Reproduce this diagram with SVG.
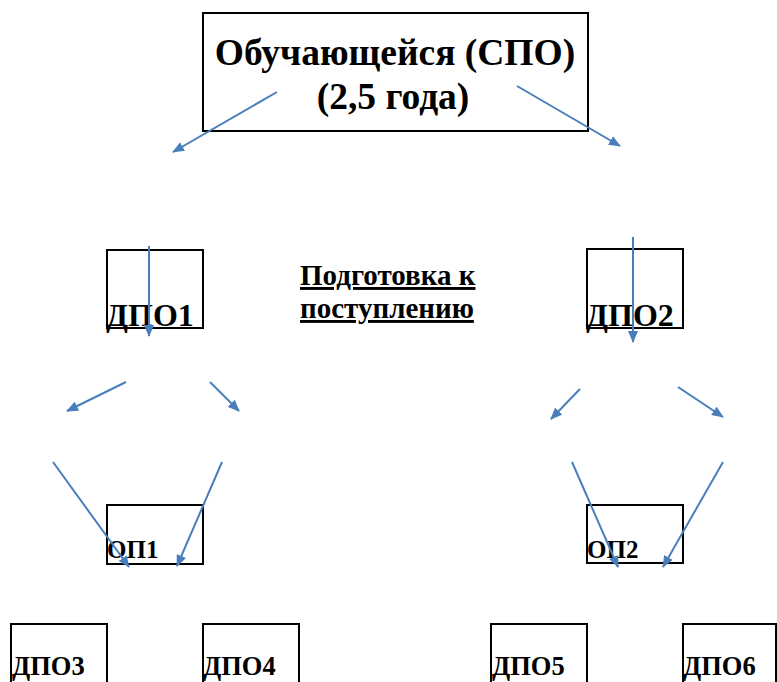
<svg xmlns="http://www.w3.org/2000/svg" width="777" height="682" viewBox="0 0 777 682">
<style>
.box{fill:none;stroke:#000;stroke-width:2}
.t{font-family:"Liberation Serif","Times New Roman",serif;font-weight:bold;fill:#000}
.big{font-size:37.5px}
.lbl{font-size:32px}
.sm{font-size:25px}
.bt{font-size:26.5px}
.mid{font-size:29px;text-decoration:underline}
.ar{stroke:#4A7EBB;stroke-width:2;fill:none;marker-end:url(#ah)}
</style>
<defs>
<marker id="ah" viewBox="0 0 12 10" refX="11" refY="5" markerWidth="6" markerHeight="5" orient="auto" markerUnits="strokeWidth">
<path d="M0,0 L12,5 L0,10 z" fill="#4A7EBB"/>
</marker>
</defs>
<rect width="777" height="682" fill="#fff"/>
<g id="top">
<rect class="box" x="203" y="13" width="385" height="118"/>
<text class="t big" x="395" y="65" text-anchor="middle">Обучающейся (СПО)</text>
<text class="t big" x="393" y="109" text-anchor="middle">(2,5 года)</text>
</g>
<g id="dpo1">
<rect class="box" x="107" y="250" width="96" height="78"/>
<text class="t lbl" x="106" y="326">ДПО1</text>
</g>
<g id="dpo2">
<rect class="box" x="587" y="249" width="96" height="79"/>
<text class="t lbl" x="586" y="326">ДПО2</text>
</g>
<g id="prep">
<text class="t mid" x="300" y="285">Подготовка к</text>
<text class="t mid" x="300" y="318">поступлению</text>
</g>
<g id="op1">
<rect class="box" x="107" y="505" width="96" height="59"/>
<text class="t sm" x="107" y="558">ОП1</text>
</g>
<g id="op2">
<rect class="box" x="587" y="505" width="96" height="58"/>
<text class="t sm" x="587" y="558">ОП2</text>
</g>
<g id="dpo3">
<rect class="box" x="11" y="624" width="96" height="70"/>
<text class="t bt" x="12" y="675">ДПО3</text>
</g>
<g id="dpo4">
<rect class="box" x="203" y="624" width="96" height="70"/>
<text class="t bt" x="203" y="675">ДПО4</text>
</g>
<g id="dpo5">
<rect class="box" x="491" y="624" width="96" height="70"/>
<text class="t bt" x="492" y="675">ДПО5</text>
</g>
<g id="dpo6">
<rect class="box" x="683" y="624" width="93" height="70"/>
<text class="t bt" x="683" y="675">ДПО6</text>
</g>
<g id="connectors">
<line class="ar" x1="277" y1="92" x2="173" y2="152"/>
<line class="ar" x1="517" y1="86" x2="620" y2="146"/>
<line class="ar" x1="149" y1="246" x2="149" y2="336"/>
<line class="ar" x1="633" y1="237" x2="633" y2="342"/>
<line class="ar" x1="126" y1="382" x2="67" y2="411"/>
<line class="ar" x1="210" y1="382" x2="239" y2="411"/>
<line class="ar" x1="53" y1="462" x2="129" y2="567"/>
<line class="ar" x1="222" y1="462" x2="177" y2="566"/>
<line class="ar" x1="580" y1="389" x2="551" y2="419"/>
<line class="ar" x1="678" y1="387" x2="723" y2="417"/>
<line class="ar" x1="572" y1="462" x2="618" y2="567"/>
<line class="ar" x1="723" y1="462" x2="663" y2="567"/>
</g>
</svg>
